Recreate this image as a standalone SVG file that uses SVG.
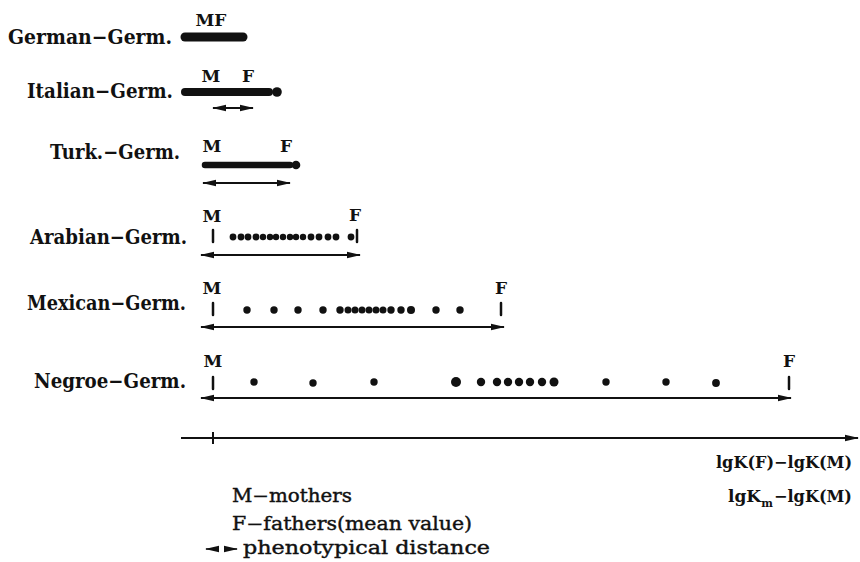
<svg xmlns="http://www.w3.org/2000/svg" width="860" height="562" viewBox="0 0 860 562">
<style>
.lbl{font-family:"DejaVu Serif","Liberation Serif",serif;font-weight:bold;font-size:20px;fill:#111}
.mf{font-family:"DejaVu Serif","Liberation Serif",serif;font-weight:bold;font-size:17px;fill:#111;text-anchor:middle}
.leg{font-family:"DejaVu Serif","Liberation Serif",serif;font-size:18px;fill:#111;stroke:#111;stroke-width:0.4}
.axl{font-family:"DejaVu Serif","Liberation Serif",serif;font-weight:bold;font-size:17px;fill:#111}
.bar{stroke:#111;stroke-linecap:round;fill:none}
.tick{stroke:#111;stroke-width:2.5;stroke-linecap:round}
.dot{fill:#111}
.arr{stroke:#111;stroke-width:2;fill:none;marker-start:url(#ah);marker-end:url(#ah)}
</style>
<defs>
<marker id="ah" markerUnits="userSpaceOnUse" markerWidth="14" markerHeight="8" refX="13" refY="4" orient="auto-start-reverse">
<path d="M0,0.8 L14,4 L0,7.2 Z" fill="#111"/>
</marker>
<marker id="ahe" markerUnits="userSpaceOnUse" markerWidth="14" markerHeight="8" refX="13" refY="4" orient="auto">
<path d="M0,0.8 L14,4 L0,7.2 Z" fill="#111"/>
</marker>
</defs>
<rect width="860" height="562" fill="#fff"/>

<g id="german">
<text class="lbl" x="8" y="44" textLength="164" lengthAdjust="spacingAndGlyphs">German−Germ.</text>
<text class="mf" x="211" y="26">MF</text>
<line class="bar" x1="185" y1="37" x2="243" y2="37" stroke-width="9"/>
</g>

<g id="italian">
<text class="lbl" x="27" y="98" textLength="146" lengthAdjust="spacingAndGlyphs">Italian−Germ.</text>
<text class="mf" x="211" y="82">M</text>
<text class="mf" x="248" y="82">F</text>
<line class="bar" x1="185" y1="92" x2="269" y2="92" stroke-width="8"/>
<circle class="dot" cx="277" cy="92" r="4.8"/>
</g>

<g id="turk">
<text class="lbl" x="50" y="159" textLength="130" lengthAdjust="spacingAndGlyphs">Turk.−Germ.</text>
<text class="mf" x="212" y="152">M</text>
<text class="mf" x="286" y="152">F</text>
<line class="bar" x1="205" y1="165" x2="290" y2="165" stroke-width="6.5"/>
<circle class="dot" cx="296" cy="165" r="4.3"/>
</g>

<g id="arabian">
<text class="lbl" x="30" y="244" textLength="157" lengthAdjust="spacingAndGlyphs">Arabian−Germ.</text>
<text class="mf" x="212" y="222">M</text>
<text class="mf" x="355" y="221">F</text>
<line class="tick" x1="213" y1="230" x2="213" y2="242"/>
<line class="tick" x1="357" y1="230" x2="357" y2="242"/>
<g class="dot">
<circle cx="233" cy="237" r="3.4"/><circle cx="241" cy="237" r="3.4"/><circle cx="248" cy="237" r="3.4"/><circle cx="256" cy="237" r="3.4"/><circle cx="263" cy="237" r="3.2"/><circle cx="270" cy="237" r="3.2"/><circle cx="276" cy="237" r="3.2"/><circle cx="283" cy="237" r="3.2"/><circle cx="290" cy="237" r="3.2"/><circle cx="296" cy="237" r="3.2"/><circle cx="303" cy="237" r="3.2"/><circle cx="311" cy="237" r="3.4"/><circle cx="319" cy="237" r="3.4"/><circle cx="328" cy="237" r="3.4"/><circle cx="336" cy="237" r="3.4"/><circle cx="351" cy="237" r="3.4"/>
</g>
</g>

<g id="mexican">
<text class="lbl" x="27" y="310" textLength="159" lengthAdjust="spacingAndGlyphs">Mexican−Germ.</text>
<text class="mf" x="212" y="294">M</text>
<text class="mf" x="501" y="294">F</text>
<line class="tick" x1="213" y1="303" x2="213" y2="315"/>
<line class="tick" x1="501" y1="303" x2="501" y2="315"/>
<g class="dot">
<circle cx="247" cy="310" r="3.7"/><circle cx="274" cy="310" r="3.7"/><circle cx="298" cy="310" r="3.7"/><circle cx="323" cy="310" r="3.7"/><circle cx="340" cy="310" r="3.7"/><circle cx="348" cy="310" r="3.5"/><circle cx="355" cy="310" r="3.5"/><circle cx="362" cy="310" r="3.5"/><circle cx="369" cy="310" r="3.5"/><circle cx="376" cy="310" r="3.5"/><circle cx="383" cy="310" r="3.5"/><circle cx="391" cy="310" r="3.7"/><circle cx="401" cy="310" r="3.7"/><circle cx="411" cy="310" r="4"/><circle cx="436" cy="310" r="3.7"/><circle cx="460" cy="310" r="3.7"/>
</g>
</g>

<g id="negroe">
<text class="lbl" x="34" y="388" textLength="152" lengthAdjust="spacingAndGlyphs">Negroe−Germ.</text>
<text class="mf" x="213" y="367">M</text>
<text class="mf" x="789" y="367">F</text>
<line class="tick" x1="213" y1="377" x2="213" y2="389"/>
<line class="tick" x1="789" y1="377" x2="789" y2="389"/>
<g class="dot">
<circle cx="254" cy="382" r="3.7"/><circle cx="313" cy="383" r="3.7"/><circle cx="374" cy="382" r="3.7"/><circle cx="456" cy="382" r="5"/><circle cx="481" cy="382" r="4.2"/><circle cx="497" cy="382" r="4.2"/><circle cx="508" cy="382" r="4.2"/><circle cx="519" cy="382" r="4.2"/><circle cx="530" cy="382" r="4.2"/><circle cx="542" cy="382" r="4.2"/><circle cx="554" cy="382" r="4.5"/><circle cx="606" cy="382" r="3.7"/><circle cx="666" cy="382" r="3.7"/><circle cx="716" cy="383" r="3.9"/>
</g>
</g>

<g id="connectors">
<line class="arr" x1="213" y1="108" x2="253" y2="108"/>
<line class="arr" x1="203" y1="183" x2="290" y2="183"/>
<line class="arr" x1="201" y1="255" x2="360" y2="255"/>
<line class="arr" x1="201" y1="327" x2="504" y2="327"/>
<line class="arr" x1="201" y1="398" x2="791" y2="398"/>
</g>

<g id="axis">
<line x1="181" y1="438" x2="858" y2="438" stroke="#111" stroke-width="2" marker-end="url(#ahe)"/>
<line x1="213" y1="432" x2="213" y2="444" stroke="#111" stroke-width="2"/>
<text class="axl" x="716" y="468" textLength="136" lengthAdjust="spacingAndGlyphs">lgK(F)−lgK(M)</text>
<text class="axl" x="728" y="502">lgK<tspan font-size="11" dy="5">m</tspan></text>
<text class="axl" x="852" y="502" text-anchor="end" textLength="78" lengthAdjust="spacingAndGlyphs">−lgK(M)</text>
</g>

<g id="legend">
<text class="leg" x="232" y="502" textLength="120" lengthAdjust="spacingAndGlyphs">M−mothers</text>
<text class="leg" x="232" y="530" textLength="240" lengthAdjust="spacingAndGlyphs">F−fathers(mean value)</text>
<line x1="206" y1="549" x2="216" y2="549" stroke="#111" stroke-width="1.5" marker-start="url(#ah)"/>
<line x1="225" y1="549" x2="237" y2="549" stroke="#111" stroke-width="1.5" marker-end="url(#ahe)"/>
<text class="leg" x="243" y="554" textLength="247" lengthAdjust="spacingAndGlyphs">phenotypical distance</text>
</g>
</svg>
